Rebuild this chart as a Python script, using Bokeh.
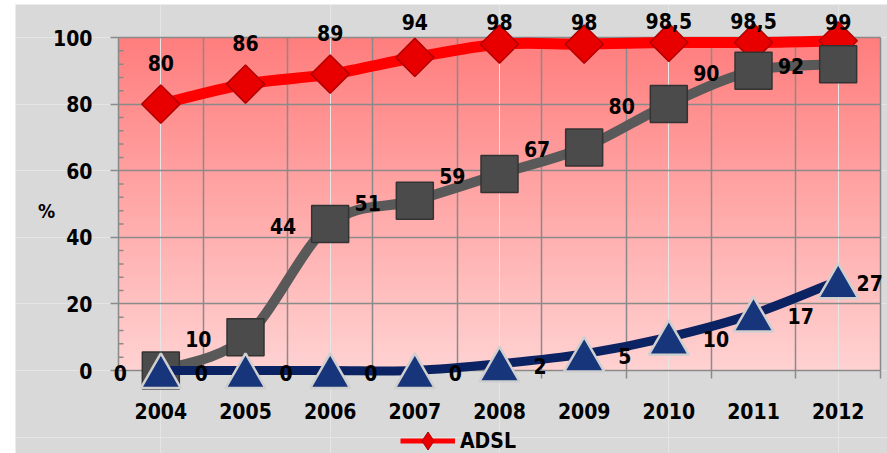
import numpy as np
from bokeh.plotting import figure
from bokeh.models import (ColumnDataSource, LabelSet, Label, Legend, LegendItem,
                          FixedTicker, Range1d, Grid)
from bokeh.core.properties import value
from bokeh.embed import file_html
from bokeh.resources import INLINE

# ---------------- data ----------------
years = [2004, 2005, 2006, 2007, 2008, 2009, 2010, 2011, 2012]
year_labels = ["2004", "2005", "2006", "2007", "2008", "2009", "2010", "2011", "2012"]
adsl = [80, 86, 89, 94, 98, 98, 98.5, 98.5, 99]
adsl_labels = ["80", "86", "89", "94", "98", "98", "98,5", "98,5", "99"]
series_gray = [0, 10, 44, 51, 59, 67, 80, 90, 92]
gray_labels = ["0", "10", "44", "51", "59", "67", "80", "90", "92"]
series_blue = [0, 0, 0, 0, 2, 5, 10, 17, 27]
blue_labels = ["0", "0", "0", "0", "2", "5", "10", "17", "27"]
y_ticks = [0, 20, 40, 60, 80, 100]
y_tick_labels = ["0", "20", "40", "60", "80", "100"]
y_minor = [v for v in range(0, 101, 4) if v not in y_ticks]

# ---------------- style / layout (page pixels) ----------------
W, H = 887, 453
FONT = "DejaVu Sans Condensed"
FS = "21px"
BG = "#d9d9d9"
GRID = "#8a8a8a"
FRAME_L, FRAME_T = 15, 4          # grey chart area starts here
AX_L, AX_R = 118, 880             # plot area left / right (px)
Y100, Y0 = 37, 370                # px of 100 % and 0 %
PXY = (Y0 - Y100) / 100.0         # px per percent
PXX = (AX_R - AX_L) / 9.0         # px per year
TOP_LIMIT_PX = 21
RIGHT_LIMIT_PX = 880

x_start = 2003.5 - (AX_L - FRAME_L) / PXX
x_end = 2012.5 + (W - AX_R) / PXX
y_end = 100 + (Y100 - FRAME_T) / PXY
y_start = -(H - Y0) / PXY


def smooth(xs, ys):
    xs = np.asarray(xs, float); ys = np.asarray(ys, float)
    n = len(xs)
    px = np.concatenate([[xs[0]], xs, [xs[-1]]])
    py = np.concatenate([[ys[0]], ys, [ys[-1]]])
    return dict(
        x0=xs[:-1], y0=ys[:-1], x1=xs[1:], y1=ys[1:],
        cx0=xs[:-1] + (px[2:n + 1] - px[0:n - 1]) / 6,
        cy0=ys[:-1] + (py[2:n + 1] - py[0:n - 1]) / 6,
        cx1=xs[1:] - (px[3:n + 2] - px[1:n]) / 6,
        cy1=ys[1:] - (py[3:n + 2] - py[1:n]) / 6,
    )


p = figure(width=W, height=H,
           x_range=Range1d(x_start, x_end), y_range=Range1d(y_start, y_end),
           x_axis_location=None, y_axis_location=None,
           output_backend="svg", toolbar_location=None,
           min_border_left=FRAME_L, min_border_right=0, min_border_top=FRAME_T,
           min_border_bottom=0,
           background_fill_color=BG, border_fill_color="white", outline_line_color=None)

# gradient plot area
n = 200
t = np.linspace(0, 1, n)
top = np.array([255, 126, 126]); bot = np.array([255, 210, 210])
img = np.empty((n, 1), dtype=np.uint32)
view = img.view(dtype=np.uint8).reshape((n, 1, 4))
for i in range(n):
    c = bot * (1 - t[i]) + top * t[i]
    view[i, 0, 0:3] = c.astype(np.uint8)
    view[i, 0, 3] = 255
p.image_rgba(image=[img], x=2003.5, y=0, dw=9, dh=100, level="image")

# grids (also act as axis lines and tick marks)
xgrid = Grid(dimension=0, ticker=FixedTicker(ticks=[y - 0.5 for y in years] + [years[-1] + 0.5]),
             cross_bounds=(-8 / PXY, 100), grid_line_color=GRID, grid_line_width=1.5)
ygrid = Grid(dimension=1, ticker=FixedTicker(ticks=y_ticks),
             cross_bounds=(2003.5 - 8 / PXX, 2012.5), grid_line_color=GRID, grid_line_width=1.5)
p.add_layout(xgrid)
p.add_layout(ygrid)
p.segment(x0=[2003.5] * len(y_minor), y0=y_minor, x1=[2003.5 + 5 / PXX] * len(y_minor),
          y1=y_minor, line_color=GRID, line_width=1.5, level="underlay")

# tick labels
tick_common = dict(text_font=value(FONT), text_font_size=FS, text_font_style="bold",
                   text_color="black", text_baseline="middle")
p.add_layout(LabelSet(x="x", y="y", text="t", x_offset=-26, text_align="right",
                      source=ColumnDataSource(dict(x=[2003.5] * len(y_ticks), y=y_ticks,
                                                   t=y_tick_labels)), **tick_common))
p.add_layout(LabelSet(x="x", y="y", text="t", y_offset=-40, text_align="center",
                      source=ColumnDataSource(dict(x=years, y=[0] * len(years),
                                                   t=year_labels)), **tick_common))
p.add_layout(Label(x=2003.5 - 72 / PXX, y=48, text="%", text_align="center",
                   text_baseline="middle", text_font=FONT, text_font_size="19px",
                   text_font_style="bold", text_color="black"))

# series: ADSL
s = smooth(years, adsl)
p.bezier(line_color="#ff0000", line_width=11, line_cap="round", source=ColumnDataSource(s),
         **{k: k for k in s})
p.scatter(years, adsl, marker="square", angle=np.pi / 4, size=27,
          fill_color="#e80000", line_color="#b00000", line_width=1.5)

# series: gray
s = smooth(years, series_gray)
p.bezier(line_color="#595959", line_width=10, line_cap="round", source=ColumnDataSource(s),
         **{k: k for k in s})
p.scatter(years, series_gray, marker="square", size=37,
          fill_color="#4b4b4b", line_color="#333333", line_width=1.5)

# series: blue (triangle glyph centred on its box)
s = smooth(years, series_blue)
p.bezier(line_color="#0b2263", line_width=9, line_cap="round", source=ColumnDataSource(s),
         **{k: k for k in s})
p.scatter(years, [v - 6 / PXY for v in series_blue], marker="triangle", size=40,
          fill_color="#17357a", line_color="#cfcfcf", line_width=2.5)

# data labels
def marker_px(v):
    return Y0 - v * PXY

adsl_src = ColumnDataSource(dict(
    x=years, y=adsl, t=adsl_labels,
    dy=[min(41, marker_px(v) - TOP_LIMIT_PX) for v in adsl]))
gray_src = ColumnDataSource(dict(x=years, y=series_gray, t=gray_labels))
blue_dx = []
for i, lab in enumerate(blue_labels):
    mx = AX_L + (i + 0.5) * PXX
    blue_dx.append(min(34, RIGHT_LIMIT_PX - mx - 12 * len(lab)))
blue_src = ColumnDataSource(dict(x=years, y=series_blue, t=blue_labels, dx=blue_dx))

p.add_layout(LabelSet(x="x", y="y", text="t", y_offset="dy", source=adsl_src,
                      text_align="center", **tick_common))
p.add_layout(LabelSet(x="x", y="y", text="t", x_offset=-34, y_offset=-2, source=gray_src,
                      text_align="right", **tick_common))
p.add_layout(LabelSet(x="x", y="y", text="t", x_offset="dx", y_offset=-2, source=blue_src,
                      text_align="left", **tick_common))

# legend (only ADSL visible at the bottom edge); proxy renderers draw nothing in the plot
leg_line = p.line(x=[years[0], years[1]], y=[np.nan, np.nan], line_color="#ff0000", line_width=5)
leg_mark = p.scatter(x=[years[0]], y=[np.nan], marker="diamond", size=20,
                     fill_color="#e80000", line_color="#b00000")
legend = Legend(items=[LegendItem(label="ADSL", renderers=[leg_line, leg_mark])],
                location=(400 - FRAME_L, -10), orientation="horizontal",
                glyph_width=55, glyph_height=45, padding=0, margin=0, spacing=0,
                label_standoff=5, background_fill_alpha=0, border_line_color=None,
                label_text_font=FONT, label_text_font_size=FS, label_text_font_style="bold",
                label_text_color="black")
p.add_layout(legend, "center")

open("out.html", "w").write(file_html(p, INLINE))
